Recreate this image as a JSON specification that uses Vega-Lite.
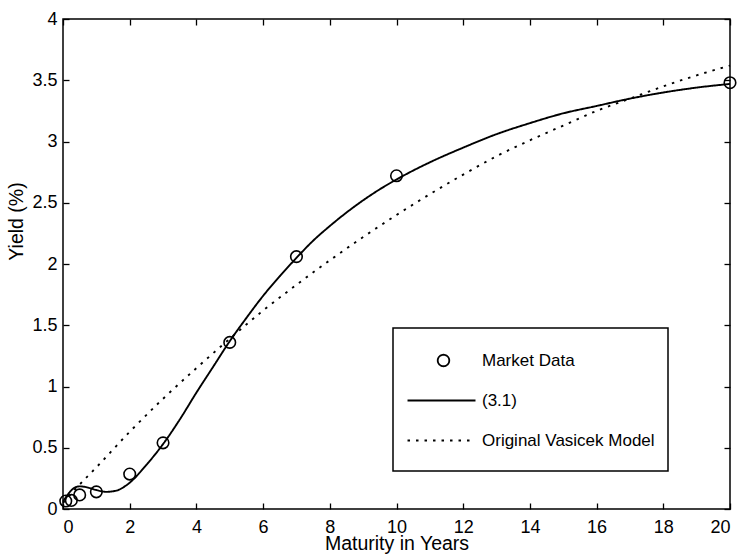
{
  "$schema": "https://vega.github.io/schema/vega-lite/v6.json",
  "width": 667,
  "height": 490,
  "autosize": {"type": "none"},
  "padding": {"left": 63, "top": 19, "right": 9, "bottom": 51},
  "background": "white",
  "config": {
    "view": {"stroke": "black", "strokeWidth": 1.5},
    "font": "Liberation Sans",
    "axis": {
      "domain": false, "grid": false,
      "tickColor": "black", "tickWidth": 1.3, "tickSize": -6,
      "labelColor": "black", "labelFont": "Liberation Sans", "labelFontSize": 18,
      "titleColor": "black", "titleFont": "Liberation Sans", "titleFontSize": 19.5, "titleFontWeight": "normal"
    },
    "legend": {"strokeWidth": 1.5}
  },
  "data": {
    "values": [
      {"series": "Market Data", "t": 0.083, "y": 0.065},
      {"series": "Market Data", "t": 0.25, "y": 0.07},
      {"series": "Market Data", "t": 0.5, "y": 0.115},
      {"series": "Market Data", "t": 1, "y": 0.14},
      {"series": "Market Data", "t": 2, "y": 0.285},
      {"series": "Market Data", "t": 3, "y": 0.54},
      {"series": "Market Data", "t": 5, "y": 1.36},
      {"series": "Market Data", "t": 7, "y": 2.06},
      {"series": "Market Data", "t": 10, "y": 2.72},
      {"series": "Market Data", "t": 20, "y": 3.48},
      {"series": "(3.1)", "t": 0, "y": 0.06},
      {"series": "(3.1)", "t": 0.15, "y": 0.12},
      {"series": "(3.1)", "t": 0.3, "y": 0.165},
      {"series": "(3.1)", "t": 0.5, "y": 0.185},
      {"series": "(3.1)", "t": 0.75, "y": 0.175},
      {"series": "(3.1)", "t": 1, "y": 0.155},
      {"series": "(3.1)", "t": 1.3, "y": 0.14},
      {"series": "(3.1)", "t": 1.6, "y": 0.15},
      {"series": "(3.1)", "t": 2, "y": 0.215},
      {"series": "(3.1)", "t": 2.5, "y": 0.36},
      {"series": "(3.1)", "t": 3, "y": 0.53},
      {"series": "(3.1)", "t": 3.5, "y": 0.73},
      {"series": "(3.1)", "t": 4, "y": 0.95},
      {"series": "(3.1)", "t": 4.5, "y": 1.16},
      {"series": "(3.1)", "t": 5, "y": 1.37},
      {"series": "(3.1)", "t": 5.5, "y": 1.56},
      {"series": "(3.1)", "t": 6, "y": 1.74},
      {"series": "(3.1)", "t": 6.5, "y": 1.9},
      {"series": "(3.1)", "t": 7, "y": 2.05},
      {"series": "(3.1)", "t": 7.5, "y": 2.19},
      {"series": "(3.1)", "t": 8, "y": 2.31},
      {"series": "(3.1)", "t": 8.5, "y": 2.42},
      {"series": "(3.1)", "t": 9, "y": 2.52},
      {"series": "(3.1)", "t": 9.5, "y": 2.61},
      {"series": "(3.1)", "t": 10, "y": 2.69},
      {"series": "(3.1)", "t": 11, "y": 2.83},
      {"series": "(3.1)", "t": 12, "y": 2.95},
      {"series": "(3.1)", "t": 13, "y": 3.06},
      {"series": "(3.1)", "t": 14, "y": 3.15},
      {"series": "(3.1)", "t": 15, "y": 3.23},
      {"series": "(3.1)", "t": 16, "y": 3.29},
      {"series": "(3.1)", "t": 17, "y": 3.35},
      {"series": "(3.1)", "t": 18, "y": 3.4},
      {"series": "(3.1)", "t": 19, "y": 3.44},
      {"series": "(3.1)", "t": 20, "y": 3.47},
      {"series": "Original Vasicek Model", "t": 0, "y": 0.05},
      {"series": "Original Vasicek Model", "t": 0.5, "y": 0.2},
      {"series": "Original Vasicek Model", "t": 1, "y": 0.34},
      {"series": "Original Vasicek Model", "t": 2, "y": 0.63},
      {"series": "Original Vasicek Model", "t": 3, "y": 0.9},
      {"series": "Original Vasicek Model", "t": 4, "y": 1.15},
      {"series": "Original Vasicek Model", "t": 5, "y": 1.39},
      {"series": "Original Vasicek Model", "t": 6, "y": 1.62},
      {"series": "Original Vasicek Model", "t": 7, "y": 1.83},
      {"series": "Original Vasicek Model", "t": 8, "y": 2.03},
      {"series": "Original Vasicek Model", "t": 9, "y": 2.22},
      {"series": "Original Vasicek Model", "t": 10, "y": 2.4},
      {"series": "Original Vasicek Model", "t": 11, "y": 2.57},
      {"series": "Original Vasicek Model", "t": 12, "y": 2.73},
      {"series": "Original Vasicek Model", "t": 13, "y": 2.88},
      {"series": "Original Vasicek Model", "t": 14, "y": 3.01},
      {"series": "Original Vasicek Model", "t": 15, "y": 3.13},
      {"series": "Original Vasicek Model", "t": 16, "y": 3.25},
      {"series": "Original Vasicek Model", "t": 17, "y": 3.35},
      {"series": "Original Vasicek Model", "t": 18, "y": 3.45},
      {"series": "Original Vasicek Model", "t": 19, "y": 3.54},
      {"series": "Original Vasicek Model", "t": 20, "y": 3.62}
    ]
  },
  "layer": [
    {
      "transform": [{"filter": "datum.series !== 'Market Data'"}],
      "mark": {"type": "line", "color": "black", "strokeWidth": 1.9, "interpolate": "monotone", "strokeCap": "butt"},
      "encoding": {
        "x": {"field": "t", "type": "quantitative", "scale": {"domain": [0, 20], "nice": false},
              "axis": {"title": "Maturity in Years", "values": [0, 2, 4, 6, 8, 10, 12, 14, 16, 18, 20], "labelPadding": 15, "titlePadding": -2}},
        "y": {"field": "y", "type": "quantitative", "scale": {"domain": [0, 4], "nice": false},
              "axis": {"title": "Yield (%)", "values": [0, 0.5, 1, 1.5, 2, 2.5, 3, 3.5, 4], "format": "~g", "labelPadding": 12, "titlePadding": 5, "titleY": 202}},
        "strokeDash": {
          "field": "series", "type": "nominal",
          "scale": {"domain": ["Market Data", "(3.1)", "Original Vasicek Model"], "range": [[1, 0], [1, 0], [2.5, 6]]},
          "legend": {"title": " ", "titleFontSize": 2, "titlePadding": 9, "orient": "none", "legendX": 330, "legendY": 309, "strokeColor": "black", "fillColor": "white", "padding": 13,
                     "labelFontSize": 17, "labelFont": "Liberation Sans", "labelColor": "black", "labelLimit": 300,
                     "symbolSize": 133, "symbolStrokeColor": "black", "symbolStrokeWidth": 1.8, "symbolFillColor": "transparent",
                     "symbolOffset": 29, "labelOffset": 30, "rowPadding": 5}
        }
      }
    },
    {
      "transform": [{"filter": "datum.series === 'Market Data'"}],
      "mark": {"type": "point", "filled": false, "color": "black", "strokeWidth": 1.6, "size": 133, "opacity": 1},
      "encoding": {
        "x": {"field": "t", "type": "quantitative", "axis": null},
        "y": {"field": "y", "type": "quantitative", "axis": null},
        "shape": {
          "field": "series", "type": "nominal",
          "scale": {"domain": ["Market Data", "(3.1)", "Original Vasicek Model"],
                    "range": ["M0,-2.4M0,2.4M1,0A1,1,0,1,1,-1,0A1,1,0,1,1,1,0", "M0,-2.4M0,2.4M-6.24,0H5.55", "M0,-2.4M0,2.4M-6.24,0H5.55"]},
          "legend": {"title": " ", "titleFontSize": 2, "titlePadding": 9, "orient": "none", "legendX": 330, "legendY": 309, "strokeColor": "black", "fillColor": "white", "padding": 13,
                     "labelFontSize": 17, "labelFont": "Liberation Sans", "labelColor": "black", "labelLimit": 300,
                     "symbolSize": 133, "symbolStrokeColor": "black", "symbolStrokeWidth": 1.8, "symbolFillColor": "transparent",
                     "symbolOffset": 29, "labelOffset": 30, "rowPadding": 5}
        }
      }
    },
    {
      "transform": [{"filter": "datum.series === 'Market Data'"}],
      "mark": {"type": "point", "opacity": 0},
      "encoding": {
        "x": {"field": "t", "type": "quantitative", "axis": {"orient": "top", "labels": false, "title": null, "values": [0, 2, 4, 6, 8, 10, 12, 14, 16, 18, 20]}},
        "y": {"field": "y", "type": "quantitative", "axis": {"orient": "right", "labels": false, "title": null, "values": [0, 0.5, 1, 1.5, 2, 2.5, 3, 3.5, 4]}}
      }
    }
  ],
  "resolve": {"axis": {"x": "independent", "y": "independent"}}
}
